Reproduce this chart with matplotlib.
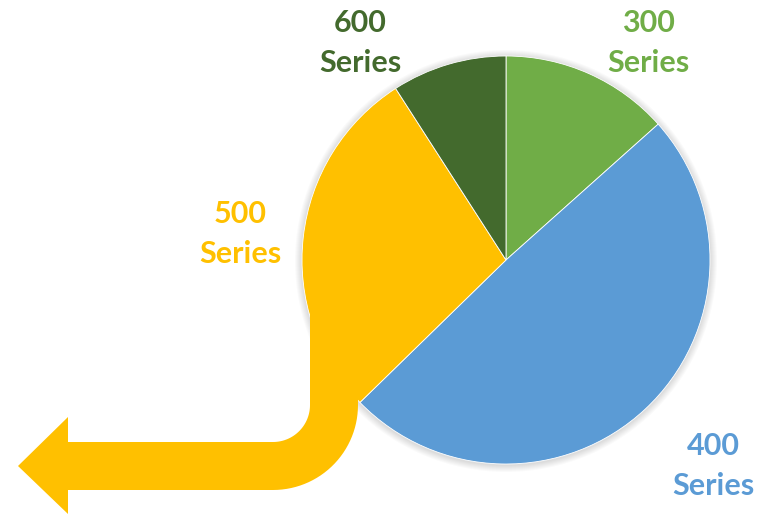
import numpy as np
import matplotlib
matplotlib.use("Agg")
import matplotlib.pyplot as plt
from matplotlib.patches import Circle, Polygon

# pie data (clockwise from 12 o'clock)
labels = ['300\nSeries', '400\nSeries', '500\nSeries', '600\nSeries']
values = [13.4, 49.3, 28.2, 9.1]
colors = ['#70AD47', '#5B9BD5', '#FFC000', '#436A2D']

W, H = 769, 517
fig = plt.figure(figsize=(W / 100, H / 100), dpi=100)
ax = fig.add_axes([0, 0, 1, 1])
ax.set_xlim(0, W)
ax.set_ylim(0, H)
ax.set_aspect('equal')
ax.axis('off')

cx, cy, r = 506, 257, 204

# soft glow / shadow around the pie
for i in range(1, 8):
    ax.add_patch(Circle((cx, cy - 1), r + i, color='#000000', alpha=0.018, lw=0, zorder=1))

ax.pie(values, colors=colors, startangle=90, counterclock=False,
       center=(cx, cy), radius=r, frame=True,
       wedgeprops={'linewidth': 0.6, 'edgecolor': 'white', 'zorder': 2})
ax.set_xlim(0, W)
ax.set_ylim(0, H)
ax.axis('off')

# yellow bent arrow coming out of the 500 slice
xl, xr = 310, 358          # vertical band edges
acx, acy = 273, 112        # bend centre
r_in, r_out = 37, 85
head_x, tip_x = 68, 18
head_top, head_bot = 100, 3
top = 240

pts = [(xl, top), (xl, acy)]
t = np.linspace(0, -np.pi / 2, 30)
pts += list(zip(acx + r_in * np.cos(t), acy + r_in * np.sin(t)))
band_top = acy - r_in
band_bot = acy - r_out
pts += [(head_x, band_top), (head_x, head_top), (tip_x, (band_top + band_bot) / 2),
        (head_x, head_bot), (head_x, band_bot)]
t = np.linspace(-np.pi / 2, 0, 30)
pts += list(zip(acx + r_out * np.cos(t), acy + r_out * np.sin(t)))
pts += [(xr, top)]
ax.add_patch(Polygon(pts, closed=True, color='#FFC000', lw=0, zorder=3))

# labels
label_pos = [(648, 474), (713, 51), (240, 283), (360, 474)]
for lab, (x, y), c in zip(labels, label_pos, colors):
    ax.text(x, y, lab, color=c, ha='center', va='center', fontsize=22,
            fontweight='bold', family=['Lato', 'DejaVu Sans'], linespacing=1.55)

fig.savefig('out.png', dpi=100)
